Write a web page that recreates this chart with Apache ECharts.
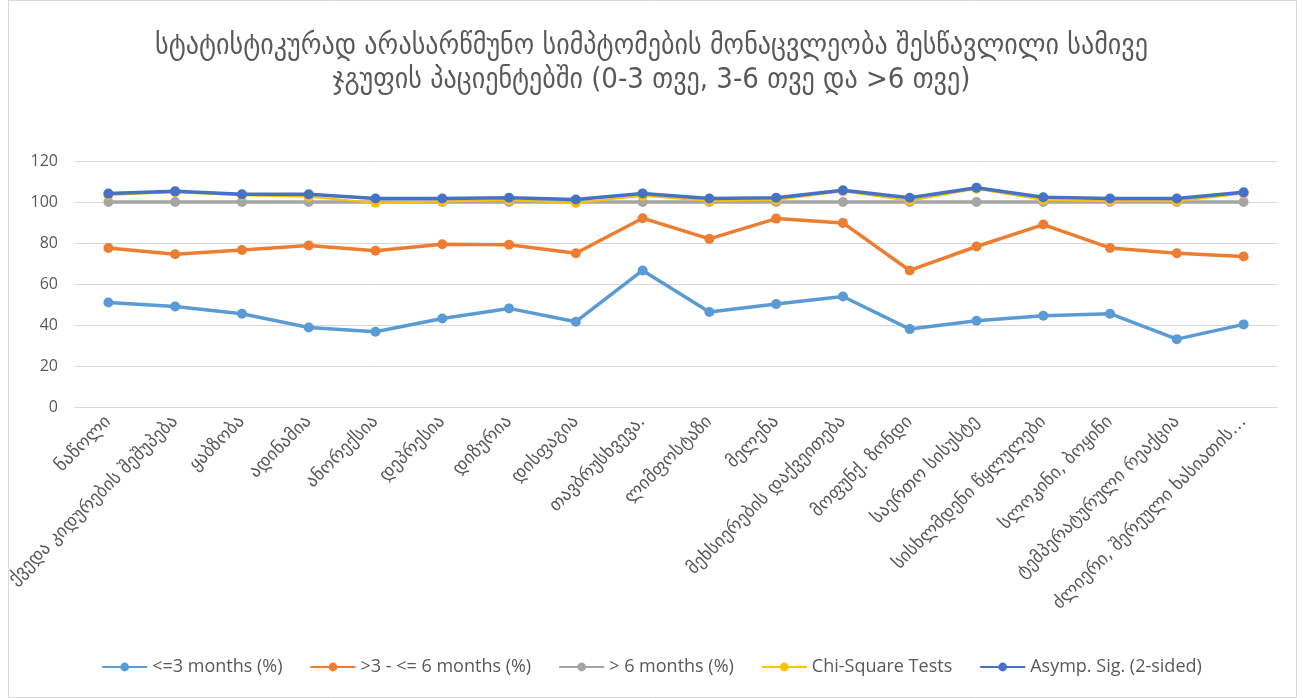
<!DOCTYPE html>
<html>
<head>
<meta charset="utf-8">
<script src="https://cdn.jsdelivr.net/npm/echarts@6/dist/echarts.min.js"></script>
<style>
  html, body { margin: 0; padding: 0; background: #fff; }
  #chart { width: 1303px; height: 698px; }
</style>
</head>
<body>
<div id="chart"></div>
<script>
// categories (symptoms)
var categories = [
  'ნაწოლი',
  'ქვედა კიდურების შეშუპება',
  'ყაბზობა',
  'ადინამია',
  'ანორექსია',
  'დეპრესია',
  'დიზურია',
  'დისფაგია',
  'თავბრუსხვევა.',
  'ლიმფოსტაზი',
  'მელენა',
  'მეხსიერების დაქვეითება',
  'მოფუნქ. ზონდი',
  'საერთო სისუსტე',
  'სისხლმდენი წყლულები',
  'სლოკინი, ბოყინი',
  'ტემპერატურული რეაქცია',
  'ძლიერი, შერეული ხასიათის…'
];

// values
var upTo3 = [51.0, 49.0, 45.5, 38.8, 36.7, 43.2, 48.1, 41.6, 66.6, 46.3, 50.2, 53.9, 38.0, 42.1, 44.5, 45.5, 33.1, 40.3];
var from3to6 = [77.6, 74.5, 76.6, 78.8, 76.2, 79.4, 79.2, 75.0, 92.1, 82.0, 91.9, 89.8, 66.6, 78.3, 89.0, 77.6, 75.0, 73.4];
var over6 = [100, 100, 100, 100, 100, 100, 100, 100, 100, 100, 100, 100, 100, 100, 100, 100, 100, 100];
var chiSquare = [103.4, 104.8, 103.3, 102.6, 99.6, 100.3, 100.8, 99.5, 103.0, 100.5, 101.0, 105.2, 100.6, 106.5, 101.0, 100.4, 100.4, 104.2];
var asympSig = [104.1, 105.2, 103.8, 103.8, 101.7, 101.7, 102.1, 101.2, 104.2, 101.7, 102.1, 105.7, 102.1, 107.0, 102.3, 101.7, 101.7, 104.7];

var yTicks = [0, 20, 40, 60, 80, 100, 120];

var seriesNames = ['<=3 months (%)', '>3 - <= 6 months (%)', '> 6 months (%)', 'Chi-Square Tests', 'Asymp. Sig. (2-sided)'];
var seriesColors = ['#5B9BD5', '#ED7D31', '#A5A5A5', '#FFC000', '#4472C4'];
var seriesData = [upTo3, from3to6, over6, chiSquare, asympSig];

var chart = echarts.init(document.getElementById('chart'));

var txt = '#595959';
var font = '"Open Sans", "DejaVu Sans", sans-serif';

function makeSeries(i) {
  return {
    name: seriesNames[i],
    type: 'line',
    data: seriesData[i],
    symbol: 'circle',
    symbolSize: 10,
    lineStyle: { width: i === 3 ? 2 : 3.5, color: seriesColors[i] },
    itemStyle: { color: seriesColors[i] },
    animation: false,
    z: 2 + i
  };
}

chart.setOption({
  backgroundColor: '#fff',
  textStyle: { fontFamily: font, color: txt },
  title: {
    text: 'სტატისტიკურად არასარწმუნო სიმპტომების მონაცვლეობა შესწავლილი სამივე\nჯგუფის პაციენტებში (0-3 თვე, 3-6 თვე და >6 თვე)',
    left: 'center',
    top: 24,
    textStyle: {
      fontFamily: '"DejaVu Sans Condensed", "DejaVu Sans", sans-serif',
      fontWeight: 'normal',
      fontSize: 29,
      lineHeight: 34,
      color: txt
    }
  },
  graphic: [{
    type: 'rect',
    shape: { x: 8.5, y: 0.5, width: 1288, height: 697 },
    style: { fill: 'none', stroke: '#d9d9d9', lineWidth: 1 },
    silent: true
  }],
  legend: {
    bottom: 17,
    left: 'center',
    itemWidth: 45,
    itemHeight: 11,
    itemGap: 27,
    textStyle: { fontSize: 18, color: txt, fontFamily: font },
    data: seriesNames
  },
  grid: {
    left: 75,
    right: 26,
    top: 161,
    bottom: 291,
    containLabel: false
  },
  xAxis: {
    type: 'category',
    data: categories,
    boundaryGap: true,
    axisLine: { lineStyle: { color: '#d9d9d9' } },
    axisTick: { show: false },
    axisLabel: {
      rotate: 45,
      interval: 0,
      fontSize: 18,
      color: txt,
      margin: 12,
      fontFamily: '"DejaVu Sans", sans-serif'
    }
  },
  yAxis: {
    type: 'value',
    min: yTicks[0],
    max: yTicks[yTicks.length - 1],
    interval: 20,
    axisLine: { show: false },
    axisTick: { show: false },
    splitLine: { lineStyle: { color: '#d9d9d9' } },
    axisLabel: { fontSize: 16, color: txt, margin: 17 }
  },
  series: [0, 1, 2, 3, 4].map(makeSeries)
});
</script>
</body>
</html>
